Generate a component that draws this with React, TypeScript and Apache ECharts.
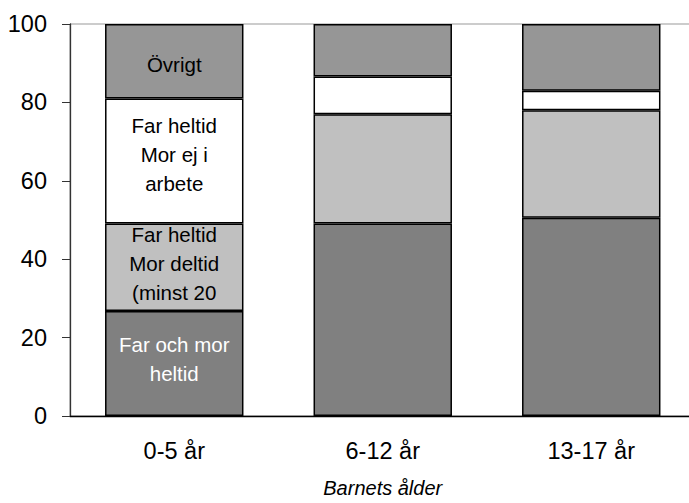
import React, { useEffect, useRef } from "react";
import * as echarts from "echarts";

const categories = ["0-5 år", "6-12 år", "13-17 år"];
const seriesNames = [
  "Far och mor heltid",
  "Far heltid Mor deltid (minst 20 tim)",
  "Far heltid Mor ej i arbete",
  "Övrigt",
];
const farOchMorHeltid = [26.8, 49.1, 50.6];
const farHeltidMorDeltid = [22.3, 27.9, 27.4];
const farHeltidMorEjIArbete = [31.9, 9.6, 5.0];
const ovrigt = [19.0, 13.4, 17.0];
const yTicks = { min: 0, max: 100, interval: 20 };
const firstBarLabels = [
  "Far och mor\nheltid",
  "Far heltid\nMor deltid\n(minst 20",
  "Far heltid\nMor ej i\narbete",
  "Övrigt",
];

const colors = ["#808080", "#C0C0C0", "#FFFFFF", "#969696"];
const labelColors = ["#FFFFFF", "#000000", "#000000", "#000000"];
const labelOffsets = [
  [0, -4],
  [0, -4],
  [0, -7],
  [0, 3],
];

export default function App() {
  const ref = useRef<HTMLDivElement>(null);
  useEffect(() => {
    if (!ref.current) return;
    const chart = echarts.init(ref.current, undefined, { renderer: "svg" });
    const values = [farOchMorHeltid, farHeltidMorDeltid, farHeltidMorEjIArbete, ovrigt];
    const font = "'Liberation Sans', Arial, sans-serif";
    chart.setOption({
      animation: false,
      backgroundColor: "#FFFFFF",
      textStyle: { fontFamily: font },
      grid: {
        left: 70,
        top: 24,
        right: 0.5,
        bottom: 84,
        show: true,
        borderColor: "#999999",
        borderWidth: 1,
        backgroundColor: "transparent",
      },
      xAxis: {
        type: "category",
        data: categories,
        axisLine: { lineStyle: { color: "#000000", width: 1.3 } },
        axisTick: { show: false },
        axisLabel: { color: "#000000", fontSize: 23.5, margin: 23, fontFamily: font },
        name: "Barnets ålder",
        nameLocation: "middle",
        nameGap: 62,
        nameTextStyle: { fontStyle: "italic", fontSize: 20, color: "#000000", fontFamily: font },
      },
      yAxis: {
        type: "value",
        min: yTicks.min,
        max: yTicks.max,
        interval: yTicks.interval,
        axisLine: { show: true, lineStyle: { color: "#333333", width: 1.3 } },
        axisTick: { show: true, inside: false, length: 8, lineStyle: { color: "#333333" } },
        splitLine: { show: false },
        axisLabel: { color: "#000000", fontSize: 23.5, margin: 23, fontFamily: font },
      },
      series: values.map((vals, si) => ({
        type: "bar",
        name: seriesNames[si],
        stack: "total",
        barWidth: "66.4%",
        itemStyle: { color: colors[si], borderColor: "#000000", borderWidth: 1.5 },
        data: vals.map((v, i) =>
          i === 0
            ? {
                value: v,
                label: {
                  show: true,
                  position: "inside",
                  formatter: firstBarLabels[si],
                  color: labelColors[si],
                  fontSize: 20.5,
                  lineHeight: 29,
                  fontFamily: font,
                  offset: labelOffsets[si],
                  textBorderWidth: 0,
                },
              }
            : { value: v }
        ),
      })),
    });
    return () => chart.dispose();
  }, []);
  return (
    <div style={{ position: "absolute", left: 0, top: 0, width: 689, height: 503, overflow: "hidden" }}>
      <div ref={ref} style={{ width: 696, height: 503 }} />
    </div>
  );
}
